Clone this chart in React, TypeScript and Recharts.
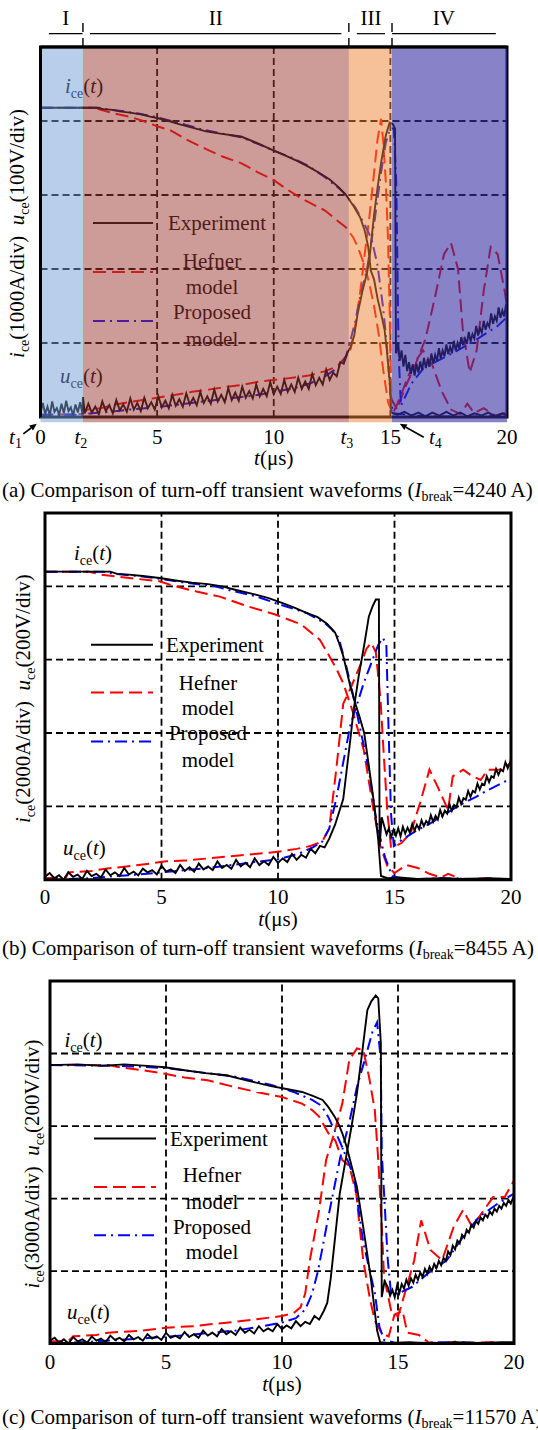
import React from 'react';
import {
  LineChart,
  Line,
  XAxis,
  YAxis,
  ReferenceLine,
  ReferenceArea,
  Customized,
} from 'recharts';

type Pt = [number, number];

const FONT = '"Liberation Serif", "Times New Roman", Times, serif';
const FS = 21;
const SUB_FS = 14;
const PAGE_W = 538;
const PAGE_H = 1430;

// time axis in µs, vertical axis in oscilloscope divisions
const T_MAX = 20;
const DIVS = 5;
const gridTimes = [5, 10, 15];
const gridDivs = [1, 2, 3, 4];
const plainTicks = [0, 5, 10, 15, 20];

// turn-off stages of panel (a)
const stageBounds = [0, 1.82, 13.22, 15.07, 20];
const stageNames = ['I', 'II', 'III', 'IV'];
const stageBracketFrom = [0.36, 2.12, 13.56, 15.07];
const stageBracketTo = [1.8, 12.9, 14.77, 19.52];
const stageFill = ['#719dd7', '#9b3731', '#ed8331', '#3930a3'];
const stageOpacity = [0.5, 0.5, 0.5, 0.6];
const aTickValues = [0, 1.82, 5, 10, 13.22, 15, 20];
const aTickLabels = ['0', 't2', '5', '10', 't3', '15', '20'];

const panelTags = ['(a)', '(b)', '(c)'];
const breakCurrents = ['4240', '8455', '11570'];
const currentScales = ['1000A/div', '2000A/div', '3000A/div'];
const voltageScales = ['100V/div', '200V/div', '200V/div'];

// ---------------- (a) I_break = 4240 A ----------------
const aExpIce: Pt[] = [[0,4.18],[1.2,4.18],[2.4,4.18],[2.7,4.16],[3.1,4.15],[3.4,4.13],[3.9,4.11],[4.3,4.09],[4.7,4.06],[5.0,4.04],[5.5,4.0],[5.9,3.96],[6.5,3.91],[7.1,3.86],[7.7,3.83],[8.6,3.79],[9.3,3.7],[10.0,3.6],[10.6,3.52],[11.0,3.46],[11.5,3.38],[12.0,3.29],[12.4,3.21],[12.8,3.1],[13.1,3.0],[13.4,2.86],[13.7,2.7],[13.9,2.52],[14.05,2.3],[14.16,1.98],[14.3,1.86],[14.45,1.6],[14.6,1.4],[14.75,1.18],[14.85,0.9],[14.97,0.48],[15.04,0.06],[15.3,0.03],[15.6,0.07],[15.9,0.02],[16.2,0.06],[16.5,0.01],[16.8,0.06],[17.1,0.02],[17.4,0.07],[17.7,0.02],[18.0,0.06],[18.3,0.01],[18.6,0.05],[18.9,0.02],[19.2,0.06],[19.5,0.01],[19.8,0.05],[20,0.02]];
const aExpUce: Pt[] = [[0,0.05],[0.1,0.19],[0.2,0.04],[0.3,0.14],[0.4,0.02],[0.5,0.21],[0.6,0.07],[0.7,0.12],[0.8,0.03],[0.9,0.18],[1.0,0.05],[1.1,0.22],[1.2,0.08],[1.3,0.13],[1.4,0.02],[1.5,0.17],[1.6,0.06],[1.7,0.2],[1.8,0.04],[1.82,0.27],[1.9,0.05],[2.05,0.18],[2.2,0.06],[2.35,0.14],[2.5,0.04],[2.65,0.21],[2.8,0.08],[2.95,0.16],[3.1,0.05],[3.25,0.23],[3.4,0.09],[3.55,0.17],[3.7,0.07],[3.85,0.25],[4.0,0.1],[4.15,0.19],[4.3,0.08],[4.45,0.26],[4.6,0.12],[4.75,0.2],[4.9,0.1],[5.05,0.28],[5.2,0.13],[5.35,0.22],[5.5,0.12],[5.65,0.3],[5.8,0.15],[5.95,0.24],[6.1,0.14],[6.25,0.32],[6.4,0.17],[6.55,0.26],[6.7,0.16],[6.85,0.34],[7.0,0.19],[7.15,0.28],[7.3,0.18],[7.45,0.37],[7.6,0.21],[7.75,0.3],[7.9,0.2],[8.05,0.39],[8.2,0.23],[8.35,0.33],[8.5,0.22],[8.65,0.41],[8.8,0.26],[8.95,0.35],[9.1,0.25],[9.25,0.44],[9.4,0.28],[9.55,0.38],[9.7,0.28],[9.85,0.47],[10.0,0.31],[10.15,0.41],[10.3,0.31],[10.45,0.5],[10.6,0.34],[10.75,0.44],[10.9,0.34],[11.05,0.53],[11.2,0.38],[11.35,0.48],[11.5,0.38],[11.65,0.58],[11.8,0.43],[11.95,0.53],[12.1,0.44],[12.25,0.64],[12.4,0.5],[12.55,0.6],[12.7,0.55],[12.85,0.74],[13.0,0.72],[13.15,0.86],[13.3,0.95],[13.45,1.1],[13.6,1.4],[13.8,1.7],[14.0,1.95],[14.1,2.13],[14.3,2.73],[14.45,3.1],[14.6,3.43],[14.8,3.8],[14.97,3.98],[15.1,3.96],[15.2,3.9],[15.24,0.86],[15.32,1.0],[15.4,0.76],[15.48,0.9],[15.56,0.68],[15.64,0.84],[15.72,0.62],[15.8,0.74],[15.88,0.58],[15.96,0.71],[16.04,0.56],[16.12,0.72],[16.2,0.6],[16.28,0.75],[16.36,0.63],[16.44,0.8],[16.52,0.66],[16.6,0.78],[16.68,0.68],[16.76,0.86],[16.84,0.72],[16.92,0.84],[17.0,0.76],[17.08,0.93],[17.16,0.79],[17.24,0.9],[17.32,0.82],[17.4,0.98],[17.48,0.85],[17.56,0.95],[17.64,0.86],[17.72,1.03],[17.8,0.9],[17.88,1.0],[17.96,0.92],[18.04,1.08],[18.12,0.97],[18.2,1.06],[18.28,0.99],[18.36,1.15],[18.44,1.02],[18.52,1.12],[18.6,1.06],[18.68,1.23],[18.76,1.1],[18.84,1.2],[18.92,1.14],[19.0,1.3],[19.08,1.18],[19.16,1.27],[19.24,1.22],[19.32,1.4],[19.4,1.26],[19.48,1.36],[19.56,1.3],[19.64,1.48],[19.72,1.34],[19.8,1.44],[19.88,1.36],[19.96,1.52],[20,1.42]];
const aHefIce: Pt[] = [[0,4.18],[2.3,4.18],[2.7,4.14],[3.2,4.1],[3.8,4.06],[4.4,4.0],[5.0,3.93],[5.6,3.87],[6.2,3.76],[7.1,3.62],[7.8,3.52],[8.6,3.43],[9.3,3.31],[10.0,3.2],[10.6,3.07],[11.1,2.97],[11.7,2.87],[12.2,2.79],[12.7,2.66],[13.1,2.56],[13.4,2.43],[13.6,2.3],[13.9,2.04],[14.1,1.8],[14.3,1.5],[14.5,1.12],[14.7,0.62],[14.9,0.2],[15.1,0.04],[15.4,0.25],[15.7,0.5],[16.0,0.72],[16.4,0.9],[16.8,0.7],[17.2,0.35],[17.6,0.1],[18.0,0.04],[18.3,0.18],[18.6,0.05],[19.0,0.12],[19.5,0.02],[20,0.06]];
const aHefUce: Pt[] = [[0,0.03],[1.8,0.04],[2.0,0.1],[2.6,0.12],[3.2,0.17],[3.8,0.2],[4.4,0.23],[5.0,0.26],[5.8,0.3],[6.5,0.34],[7.2,0.37],[8.0,0.41],[8.6,0.43],[9.4,0.48],[10.0,0.5],[10.8,0.53],[11.5,0.56],[12.2,0.62],[12.7,0.68],[13.0,0.78],[13.3,0.92],[13.45,1.15],[13.6,1.45],[13.75,1.8],[13.9,2.2],[14.1,2.7],[14.3,3.3],[14.45,3.75],[14.6,4.03],[14.7,3.7],[14.8,3.2],[14.9,2.4],[14.97,1.4],[15.04,0.24],[15.3,0.1],[15.6,0.38],[16.0,0.65],[16.5,1.05],[16.9,1.6],[17.3,2.2],[17.6,2.35],[17.9,2.0],[18.1,1.2],[18.4,0.6],[18.7,0.9],[19.0,1.7],[19.3,2.3],[19.6,2.2],[19.9,1.7],[20,1.5]];
const aProIce: Pt[] = [[0,4.18],[2.5,4.18],[3.0,4.15],[3.6,4.13],[4.2,4.1],[5.0,4.05],[5.6,4.0],[6.2,3.95],[7.0,3.88],[7.8,3.83],[8.6,3.78],[9.4,3.68],[10.0,3.6],[10.8,3.5],[11.5,3.39],[12.2,3.24],[12.8,3.09],[13.1,3.0],[13.5,2.83],[13.9,2.6],[14.2,2.4],[14.45,2.05],[14.7,1.45],[14.85,0.95],[14.97,0.45],[15.1,0.05],[16,0.02],[18,0.0],[20,0.02]];
const aProUce: Pt[] = [[0,0.03],[1.8,0.03],[2.2,0.05],[3.0,0.07],[3.8,0.1],[4.6,0.12],[5.4,0.15],[6.2,0.18],[7.0,0.21],[7.8,0.24],[8.6,0.27],[9.4,0.3],[10.2,0.35],[11.0,0.4],[11.6,0.46],[12.2,0.55],[12.8,0.68],[13.1,0.82],[13.3,1.05],[13.5,1.3],[13.7,1.62],[14.0,2.0],[14.3,2.6],[14.6,3.3],[14.8,3.7],[15.0,3.9],[15.15,3.9],[15.25,3.2],[15.3,2.1],[15.35,0.9],[15.45,0.15],[15.6,0.25],[15.9,0.45],[16.4,0.65],[16.9,0.74],[17.4,0.82],[18.0,0.92],[18.7,1.05],[19.2,1.15],[19.6,1.23],[20,1.35]];

// ---------------- (b) I_break = 8455 A ----------------
const bExpIce: Pt[] = [[0,4.2],[2.8,4.2],[3.1,4.17],[3.6,4.16],[4.2,4.14],[5.0,4.11],[5.6,4.08],[6.3,4.05],[7.0,4.03],[7.6,4.0],[8.2,3.95],[9.0,3.89],[9.6,3.84],[10.2,3.77],[10.7,3.71],[11.2,3.64],[11.7,3.58],[12.1,3.49],[12.45,3.37],[12.65,3.2],[12.8,3.05],[12.95,2.85],[13.1,2.64],[13.3,2.42],[13.5,2.22],[13.7,2.0],[13.9,1.55],[14.1,1.09],[14.3,0.55],[14.42,0.05],[14.7,0.02],[15.2,0.03],[16,0.01],[17,0.02],[18,0.01],[19,0.02],[20,0.01]];
const bExpUce: Pt[] = [[0,0.04],[0.2,0.09],[0.4,0.02],[0.6,0.06],[0.8,0.0],[1.0,0.1],[1.2,0.04],[1.4,0.07],[1.6,0.01],[1.8,0.12],[2.0,0.05],[2.2,0.08],[2.4,0.03],[2.6,0.14],[2.8,0.06],[3.0,0.1],[3.2,0.05],[3.4,0.16],[3.6,0.07],[3.8,0.11],[4.0,0.06],[4.2,0.15],[4.4,0.1],[4.6,0.13],[4.8,0.07],[5.0,0.19],[5.2,0.11],[5.4,0.14],[5.6,0.09],[5.8,0.2],[6.0,0.12],[6.2,0.17],[6.4,0.11],[6.6,0.22],[6.8,0.14],[7.0,0.18],[7.2,0.13],[7.4,0.25],[7.6,0.16],[7.8,0.2],[8.0,0.15],[8.2,0.27],[8.4,0.18],[8.6,0.23],[8.8,0.17],[9.0,0.29],[9.2,0.2],[9.4,0.25],[9.6,0.2],[9.8,0.31],[10.0,0.23],[10.2,0.29],[10.4,0.24],[10.6,0.35],[10.8,0.27],[11.0,0.34],[11.2,0.3],[11.4,0.42],[11.6,0.36],[11.8,0.46],[12.0,0.44],[12.2,0.56],[12.45,0.75],[12.65,0.95],[12.8,1.1],[12.95,1.5],[13.1,1.9],[13.24,2.3],[13.46,2.77],[13.7,3.2],[13.9,3.59],[14.05,3.72],[14.2,3.82],[14.33,3.82],[14.36,0.45],[14.45,0.85],[14.56,0.73],[14.66,0.62],[14.76,0.7],[14.86,0.58],[14.96,0.68],[15.06,0.6],[15.16,0.7],[15.26,0.59],[15.36,0.72],[15.46,0.63],[15.56,0.71],[15.66,0.64],[15.76,0.76],[15.86,0.67],[15.96,0.75],[16.06,0.69],[16.16,0.81],[16.26,0.73],[16.36,0.8],[16.46,0.76],[16.56,0.88],[16.66,0.79],[16.76,0.87],[16.86,0.82],[16.96,0.95],[17.06,0.86],[17.16,0.94],[17.26,0.9],[17.36,1.03],[17.46,0.94],[17.56,1.02],[17.66,0.99],[17.76,1.12],[17.86,1.03],[17.96,1.11],[18.06,1.09],[18.16,1.21],[18.26,1.13],[18.36,1.21],[18.46,1.19],[18.56,1.31],[18.66,1.23],[18.76,1.31],[18.86,1.29],[18.96,1.41],[19.06,1.33],[19.16,1.41],[19.26,1.39],[19.36,1.51],[19.46,1.43],[19.56,1.5],[19.66,1.48],[19.76,1.6],[19.86,1.52],[19.96,1.6],[20,1.56]];
const bHefIce: Pt[] = [[0,4.2],[1.9,4.2],[2.4,4.16],[3.2,4.13],[4.0,4.1],[4.9,4.07],[5.6,4.0],[6.5,3.93],[7.5,3.86],[8.67,3.73],[9.85,3.62],[11.0,3.48],[11.8,3.27],[12.2,3.05],[12.5,2.88],[12.8,2.68],[13.2,2.3],[13.68,1.77],[14.1,0.95],[14.4,0.45],[14.7,0.18],[15.0,0.09],[15.5,0.2],[16.0,0.16],[16.5,0.08],[17.0,0.03],[17.3,0.08],[17.7,0.03],[18.0,0.0],[19.0,0.02],[20,0.0]];
const bHefUce: Pt[] = [[0,0.02],[0.9,0.03],[1.0,0.1],[2.0,0.12],[2.6,0.15],[3.5,0.18],[4.5,0.22],[5.2,0.25],[6.0,0.26],[7.0,0.29],[8.0,0.32],[9.0,0.35],[10.0,0.38],[10.8,0.42],[11.4,0.46],[11.9,0.52],[12.2,0.7],[12.5,1.5],[12.8,2.4],[13.1,2.6],[13.5,2.9],[13.8,3.15],[14.0,3.23],[14.2,3.1],[14.4,2.45],[14.56,1.6],[14.7,0.9],[14.85,0.45],[15.0,0.45],[15.3,0.5],[15.7,0.64],[16.1,1.05],[16.5,1.5],[16.85,1.27],[17.3,0.95],[17.5,1.41],[17.95,1.5],[18.3,1.42],[18.7,1.36],[19.0,1.5],[19.5,1.5],[20,1.59]];
const bProIce: Pt[] = [[0,4.2],[2.5,4.2],[3.0,4.17],[4.0,4.14],[5.0,4.1],[6.0,4.05],[7.3,4.0],[8.0,3.94],[9.0,3.87],[10.0,3.76],[11.2,3.64],[12.0,3.5],[12.3,3.42],[12.6,3.3],[12.9,2.95],[13.2,2.55],[13.5,2.1],[13.9,1.5],[14.2,0.85],[14.4,0.55],[14.6,0.3],[14.9,0.05],[15.5,0.0],[17,0.02],[20,0.0]];
const bProUce: Pt[] = [[0,0.0],[2,0.02],[3,0.05],[4,0.07],[5,0.1],[6,0.13],[7,0.16],[8,0.2],[9,0.24],[10,0.28],[10.5,0.32],[11,0.37],[11.5,0.44],[11.9,0.52],[12.2,0.7],[12.5,1.1],[12.8,1.6],[13.1,2.1],[13.4,2.4],[13.7,2.7],[14.0,2.95],[14.3,3.2],[14.5,3.3],[14.65,3.2],[14.75,2.0],[14.85,0.9],[14.97,0.46],[15.2,0.52],[15.6,0.6],[16.0,0.68],[16.5,0.76],[17.0,0.86],[17.5,0.96],[18.0,1.05],[18.5,1.13],[19.0,1.22],[19.5,1.3],[20,1.38]];

// ---------------- (c) I_break = 11570 A ----------------
const cExpIce: Pt[] = [[0,3.84],[1.2,3.85],[2.2,3.83],[3.2,3.85],[4.2,3.83],[4.95,3.81],[5.8,3.77],[6.7,3.73],[7.6,3.7],[8.6,3.62],[9.53,3.55],[10.2,3.51],[10.86,3.47],[11.3,3.42],[11.75,3.36],[12.0,3.26],[12.27,3.13],[12.45,3.02],[12.6,2.9],[12.79,2.71],[13.0,2.45],[13.23,2.16],[13.5,1.61],[13.82,0.92],[14.1,0.18],[14.23,0.02],[14.6,0.01],[15.5,0.02],[16.5,0.0],[17.5,0.02],[18.5,0.01],[19.5,0.02],[20,0.02]];
const cExpUce: Pt[] = [[0,0.04],[0.2,0.08],[0.4,0.01],[0.6,0.06],[0.8,0.0],[1.0,0.09],[1.2,0.03],[1.4,0.06],[1.6,0.01],[1.8,0.1],[2.0,0.04],[2.2,0.07],[2.4,0.02],[2.6,0.11],[2.8,0.05],[3.0,0.08],[3.2,0.03],[3.4,0.12],[3.6,0.06],[3.8,0.09],[4.0,0.04],[4.2,0.13],[4.4,0.07],[4.6,0.1],[4.8,0.05],[5.0,0.15],[5.2,0.08],[5.4,0.11],[5.6,0.07],[5.8,0.16],[6.0,0.09],[6.2,0.13],[6.4,0.08],[6.6,0.18],[6.8,0.11],[7.0,0.15],[7.2,0.1],[7.4,0.2],[7.6,0.13],[7.8,0.17],[8.0,0.12],[8.2,0.22],[8.4,0.15],[8.6,0.19],[8.8,0.14],[9.0,0.24],[9.2,0.17],[9.4,0.21],[9.6,0.17],[9.8,0.27],[10.0,0.2],[10.2,0.25],[10.4,0.21],[10.6,0.31],[10.8,0.24],[11.0,0.3],[11.2,0.27],[11.4,0.38],[11.6,0.33],[11.8,0.45],[11.95,0.56],[12.1,0.9],[12.3,1.5],[12.49,2.07],[12.79,2.62],[13.0,3.0],[13.23,3.45],[13.45,4.0],[13.68,4.6],[13.85,4.72],[14.04,4.8],[14.15,4.76],[14.26,4.14],[14.3,0.64],[14.42,0.86],[14.56,0.78],[14.66,0.66],[14.76,0.74],[14.86,0.64],[14.96,0.8],[15.06,0.7],[15.16,0.82],[15.26,0.76],[15.36,0.88],[15.46,0.8],[15.56,0.9],[15.66,0.84],[15.76,0.95],[15.86,0.88],[15.96,0.98],[16.06,0.92],[16.16,1.03],[16.26,0.96],[16.36,1.06],[16.46,1.0],[16.56,1.1],[16.66,1.04],[16.76,1.14],[16.86,1.08],[16.96,1.18],[17.06,1.14],[17.16,1.27],[17.26,1.22],[17.36,1.35],[17.46,1.3],[17.56,1.42],[17.66,1.38],[17.76,1.5],[17.86,1.46],[17.96,1.57],[18.06,1.53],[18.16,1.64],[18.26,1.6],[18.36,1.69],[18.46,1.65],[18.56,1.74],[18.66,1.7],[18.76,1.78],[18.86,1.74],[18.96,1.82],[19.06,1.78],[19.16,1.86],[19.26,1.82],[19.36,1.9],[19.46,1.86],[19.56,1.94],[19.66,1.9],[19.76,1.98],[19.86,1.93],[19.96,2.01],[20,1.98]];
const cHefIce: Pt[] = [[0,3.84],[2.5,3.84],[3.0,3.81],[4.0,3.77],[4.95,3.72],[5.8,3.67],[6.8,3.63],[7.8,3.55],[8.9,3.47],[10.0,3.4],[10.86,3.31],[11.3,3.22],[11.6,3.13],[12.0,2.9],[12.3,2.8],[12.6,2.53],[12.9,2.45],[13.2,2.07],[13.5,1.15],[13.8,0.6],[14.0,0.32],[14.3,0.14],[14.6,0.1],[14.85,0.4],[15.2,0.45],[15.4,0.15],[15.9,0.12],[16.3,0.02],[17.0,0.0],[17.5,0.03],[18.0,0.01],[19.0,0.02],[20,0.0]];
const cHefUce: Pt[] = [[0,0.03],[0.8,0.04],[1.0,0.1],[2.0,0.12],[2.5,0.15],[4.0,0.18],[5.0,0.22],[6.2,0.24],[7.0,0.27],[8.0,0.3],[9.0,0.34],[10.0,0.38],[10.5,0.42],[10.8,0.5],[11.0,0.69],[11.2,1.15],[11.6,1.84],[11.9,2.53],[12.2,2.85],[12.6,3.31],[12.9,3.91],[13.23,4.07],[13.5,4.05],[13.75,3.68],[14.0,3.22],[14.15,2.53],[14.3,1.61],[14.4,0.92],[14.7,0.46],[15.0,0.37],[15.3,0.7],[15.7,1.15],[16.0,1.7],[16.4,1.29],[16.9,1.15],[17.4,1.61],[17.8,1.84],[18.2,1.61],[18.7,1.84],[19.1,2.02],[19.6,2.02],[20,2.25]];
const cProIce: Pt[] = [[0,3.84],[3.0,3.83],[5.0,3.8],[6.5,3.74],[8.0,3.68],[9.5,3.57],[10.5,3.47],[11.3,3.36],[11.7,3.28],[12.0,3.12],[12.5,2.78],[12.8,2.55],[13.1,2.3],[13.5,1.4],[14.0,0.7],[14.2,0.23],[14.4,0.05],[15,0.0],[17,0.02],[20,0.0]];
const cProUce: Pt[] = [[0,0.0],[2,0.03],[4,0.07],[6,0.12],[8,0.18],[9,0.23],[10,0.29],[10.6,0.35],[11.0,0.47],[11.3,0.69],[11.55,1.0],[11.75,1.33],[12.0,1.75],[12.2,2.07],[12.5,2.55],[12.9,3.05],[13.23,3.54],[13.6,3.95],[13.9,4.3],[14.1,4.43],[14.26,3.91],[14.3,2.62],[14.4,2.07],[14.56,1.15],[14.7,0.69],[15.0,0.69],[15.6,0.78],[16.3,0.97],[17.1,1.15],[17.8,1.47],[18.5,1.75],[19.3,1.93],[20,2.07]];

type SeriesSet = { exp: Pt[][]; hef: Pt[][]; pro: Pt[][] };
const SERIES: SeriesSet[] = [
  { exp: [aExpIce, aExpUce], hef: [aHefIce, aHefUce], pro: [aProIce, aProUce] },
  { exp: [bExpIce, bExpUce], hef: [bHefIce, bHefUce], pro: [bProIce, bProUce] },
  { exp: [cExpIce, cExpUce], hef: [cHefIce, cHefUce], pro: [cProIce, cProUce] },
];

const rows = (pts: Pt[]) => pts.map(([t, v]) => ({ t, v }));

// layout of each panel on the page
type Geom = {
  plotTop: number; plotBottom: number; x0: number; x20: number;
  tickGap: number; titleGap: number; captionY: number; yLabelX: number;
};
const GEOMS: Geom[] = [
  { plotTop: 46.5, plotBottom: 416.5, x0: 40.5, x20: 507, tickGap: 26.5, titleGap: 48.5, captionY: 497, yLabelX: 24 },
  { plotTop: 513.3, plotBottom: 880, x0: 45, x20: 511, tickGap: 24, titleGap: 46, captionY: 955, yLabelX: 30 },
  { plotTop: 980.7, plotBottom: 1343.3, x0: 50, x20: 514, tickGap: 25.5, titleGap: 48, captionY: 1424, yLabelX: 39 },
];

type LegendLayout = {
  sx1: number; sx2: number; tx: number; cx: number;
  exp: number; hef: number; red: number; m1: number; pro: number; blue: number; m2: number;
  iX: number; iY: number; uX: number; uY: number;
};
const LEGENDS: LegendLayout[] = [
  { sx1: 93, sx2: 153, tx: 168, cx: 212, exp: 176, hef: 213.5, red: 225, m1: 240, pro: 265, blue: 274, m2: 292, iX: 65, iY: 38.5, uX: 60, uY: 328.5 },
  { sx1: 91, sx2: 153, tx: 166, cx: 208, exp: 131.7, hef: 170, red: 179.4, m1: 195, pro: 220, blue: 228.4, m2: 246.7, iX: 74, iY: 40, uX: 63, uY: 335 },
  { sx1: 94, sx2: 156, tx: 170, cx: 212, exp: 157.6, hef: 194.3, red: 206, m1: 221, pro: 246, blue: 254.3, m2: 271, iX: 64.5, iY: 59.3, uX: 67, uY: 331 },
];

const EXP_STYLE = { stroke: '#000000', strokeWidth: 1.9 };
const HEF_STYLE = { stroke: '#ff0000', strokeWidth: 2, strokeDasharray: '13 6' };
const PRO_STYLE = { stroke: '#0000ff', strokeWidth: 2, strokeDasharray: '12 5 2 5' };

const TOP_PAD = 48;
const BOTTOM_PAD = 60;
const AXIS_H = 30;

function Arrow({ x1, y1, x2, y2 }: { x1: number; y1: number; x2: number; y2: number }) {
  const a = Math.atan2(y2 - y1, x2 - x1);
  const L = 7;
  const w = 3.2;
  const bx = x2 - L * Math.cos(a);
  const by = y2 - L * Math.sin(a);
  const px = -Math.sin(a) * w;
  const py = Math.cos(a) * w;
  return (
    <g>
      <line x1={x1} y1={y1} x2={bx} y2={by} stroke="#000" strokeWidth={1.6} />
      <polygon points={`${x2},${y2} ${bx + px},${by + py} ${bx - px},${by - py}`} fill="#000" />
    </g>
  );
}

function SubT({ n }: { n: string }) {
  return (
    <>
      <tspan fontStyle="italic">t</tspan>
      <tspan fontSize={SUB_FS} dy={4}>{n}</tspan>
    </>
  );
}

function makeTick(idx: number) {
  const g = GEOMS[idx];
  const yb = TOP_PAD + (g.plotBottom - g.plotTop) + g.tickGap;
  const pb = TOP_PAD + (g.plotBottom - g.plotTop);
  return (props: any) => {
    const { x, payload } = props;
    const v = payload.value as number;
    if (idx !== 0) {
      return (
        <text x={x} y={yb} textAnchor="middle" fontFamily={FONT} fontSize={FS} fill="#000">
          {String(v)}
        </text>
      );
    }
    const label = aTickLabels[aTickValues.indexOf(v)] ?? String(v);
    if (label.startsWith('t')) {
      return (
        <text x={x - 2} y={yb} textAnchor="middle" fontFamily={FONT} fontSize={FS} fill="#000">
          <SubT n={label.slice(1)} />
        </text>
      );
    }
    return (
      <g>
        <text x={x} y={yb} textAnchor="middle" fontFamily={FONT} fontSize={FS} fill="#000">
          {label}
        </text>
        {v === 0 && (
          <>
            <text x={x - 25} y={yb} textAnchor="middle" fontFamily={FONT} fontSize={FS} fill="#000">
              <SubT n="1" />
            </text>
            <Arrow x1={x - 17.2} y1={pb + 16.8} x2={x - 3.8} y2={pb + 6.8} />
          </>
        )}
        {v === 15 && (
          <>
            <text x={x + 45} y={yb} textAnchor="middle" fontFamily={FONT} fontSize={FS} fill="#000">
              <SubT n="4" />
            </text>
            <Arrow x1={x + 33.4} y1={pb + 20.2} x2={x + 9.4} y2={pb + 6.8} />
          </>
        )}
      </g>
    );
  };
}

function VarLabel({ x, y, v }: { x: number; y: number; v: string }) {
  return (
    <text x={x} y={y} fontFamily={FONT} fontSize={FS} fill="#000">
      <tspan fontStyle="italic">{v}</tspan>
      <tspan fontSize={SUB_FS} dy={5}>ce</tspan>
      <tspan dy={-5}>(</tspan>
      <tspan fontStyle="italic">t</tspan>
      <tspan>)</tspan>
    </text>
  );
}

function LegendLayer({ idx }: { idx: number }) {
  const L = LEGENDS[idx];
  const y = (o: number) => TOP_PAD + o;
  return (
    <g>
      <VarLabel x={L.iX} y={y(L.iY) + 7} v="i" />
      <VarLabel x={L.uX} y={y(L.uY) + 7} v="u" />
      <line x1={L.sx1} x2={L.sx2} y1={y(L.exp)} y2={y(L.exp)} {...EXP_STYLE} strokeWidth={2} />
      <line x1={L.sx1} x2={L.sx2} y1={y(L.red)} y2={y(L.red)} {...HEF_STYLE} />
      <line x1={L.sx1} x2={L.sx2} y1={y(L.blue)} y2={y(L.blue)} {...PRO_STYLE} />
      <g fontFamily={FONT} fontSize={FS} fill="#000">
        <text x={L.tx} y={y(L.exp) + 7}>Experiment</text>
        <text x={L.cx} y={y(L.hef) + 7} textAnchor="middle">Hefner</text>
        <text x={L.cx} y={y(L.m1) + 7} textAnchor="middle">model</text>
        <text x={L.cx} y={y(L.pro) + 7} textAnchor="middle">Proposed</text>
        <text x={L.cx} y={y(L.m2) + 7} textAnchor="middle">model</text>
      </g>
    </g>
  );
}

function Panel({ idx, extras }: { idx: number; extras?: React.ReactNode }) {
  const g = GEOMS[idx];
  const s = SERIES[idx];
  const plotH = g.plotBottom - g.plotTop;
  const h = plotH + TOP_PAD + BOTTOM_PAD;
  const ticks = idx === 0 ? aTickValues : plainTicks;
  const lines: React.ReactNode[] = [];
  s.hef.forEach((d, k) => lines.push(
    <Line key={`h${k}`} data={rows(d)} dataKey="v" type="linear" dot={false} activeDot={false} isAnimationActive={false} {...HEF_STYLE} />,
  ));
  s.pro.forEach((d, k) => lines.push(
    <Line key={`p${k}`} data={rows(d)} dataKey="v" type="linear" dot={false} activeDot={false} isAnimationActive={false} {...PRO_STYLE} />,
  ));
  s.exp.forEach((d, k) => lines.push(
    <Line key={`e${k}`} data={rows(d)} dataKey="v" type="linear" dot={false} activeDot={false} isAnimationActive={false} {...EXP_STYLE} />,
  ));
  return (
    <div style={{ position: 'absolute', left: 0, top: g.plotTop - TOP_PAD, width: PAGE_W, height: h }}>
      <LineChart
        width={PAGE_W}
        height={h}
        margin={{ top: TOP_PAD, right: PAGE_W - g.x20, bottom: BOTTOM_PAD - AXIS_H, left: g.x0 }}
      >
        <XAxis
          dataKey="t"
          type="number"
          domain={[0, T_MAX]}
          allowDataOverflow
          ticks={ticks}
          interval={0}
          tick={makeTick(idx)}
          tickLine={false}
          axisLine={false}
          height={AXIS_H}
        />
        <YAxis hide type="number" domain={[0, DIVS]} allowDataOverflow />
        {gridDivs.map((d) => (
          <ReferenceLine key={`gy${d}`} y={d} stroke="#000" strokeWidth={1.8} strokeDasharray="7 4" zIndex={300} />
        ))}
        {gridTimes.map((t) => (
          <ReferenceLine key={`gx${t}`} x={t} stroke="#000" strokeWidth={1.8} strokeDasharray="7 4" zIndex={300} />
        ))}
        {lines}
        <ReferenceArea x1={0} x2={T_MAX} y1={0} y2={DIVS} fill="none" stroke="#000" strokeWidth={3} zIndex={450} />
        <Customized component={() => <LegendLayer idx={idx} />} />
        {extras}
      </LineChart>
    </div>
  );
}

// stage shading, brackets and boundaries of panel (a)
const stageExtras = [
  ...stageNames.map((n, i) => (
    <ReferenceLine
      key={`br${n}`}
      segment={[{ x: stageBracketFrom[i], y: 5.18 }, { x: stageBracketTo[i], y: 5.18 }]}
      stroke="#000"
      strokeWidth={1.2}
      ifOverflow="visible"
      zIndex={1600}
    />
  )),
  ...stageBounds.slice(1, 4).map((b) => (
    <ReferenceLine
      key={`bd${b}`}
      segment={[{ x: b, y: 5.0 }, { x: b, y: 5.38 }]}
      stroke="#000"
      strokeWidth={1.4}
      strokeDasharray="9 6"
      ifOverflow="visible"
      zIndex={1600}
    />
  )),
  ...stageNames.map((n, i) => (
    <ReferenceArea
      key={`st${n}`}
      x1={stageBounds[i]}
      x2={stageBounds[i + 1]}
      y1={-0.07}
      y2={4.98}
      fill={stageFill[i]}
      fillOpacity={stageOpacity[i]}
      stroke="none"
      ifOverflow="visible"
      zIndex={1500}
    />
  )),
  <ReferenceLine key="edgeL" x={0} stroke="#000" strokeWidth={3} zIndex={1600} />,
  <ReferenceLine key="edgeT" y={DIVS} stroke="#000" strokeWidth={3} zIndex={1600} />,
];

function PageText() {
  return (
    <svg
      width={PAGE_W}
      height={PAGE_H}
      style={{ position: 'absolute', left: 0, top: 0, pointerEvents: 'none' }}
      fontFamily={FONT}
      fontSize={FS}
    >
      {GEOMS.map((g, i) => {
        const xOf = (t: number) => g.x0 + (t / T_MAX) * (g.x20 - g.x0);
        const cy = (g.plotTop + g.plotBottom) / 2 + 2;
        return (
          <g key={`pt${i}`}>
            <text x={xOf(10)} y={g.plotBottom + g.titleGap} textAnchor="middle">
              <tspan fontStyle="italic">t</tspan>
              <tspan>(μs)</tspan>
            </text>
            <text x={2} y={g.captionY}>
              <tspan>{`${panelTags[i]} Comparison of turn-off transient waveforms (`}</tspan>
              <tspan fontStyle="italic">I</tspan>
              <tspan fontSize={SUB_FS} dy={4}>break</tspan>
              <tspan dy={-4}>{`=${breakCurrents[i]} A)`}</tspan>
            </text>
            <text
              transform={`translate(${g.yLabelX},${cy}) rotate(-90)`}
              textAnchor="middle"
            >
              <tspan fontStyle="italic">i</tspan>
              <tspan fontSize={SUB_FS} dy={5}>ce</tspan>
              <tspan dy={-5}>{`(${currentScales[i]})\u00a0\u00a0`}</tspan>
              <tspan fontStyle="italic">u</tspan>
              <tspan fontSize={SUB_FS} dy={5}>ce</tspan>
              <tspan dy={-5}>{`(${voltageScales[i]})`}</tspan>
            </text>
          </g>
        );
      })}
      {stageNames.map((n, i) => {
        const g = GEOMS[0];
        const xOf = (t: number) => g.x0 + (t / T_MAX) * (g.x20 - g.x0);
        return (
          <text key={`sn${n}`} x={xOf((stageBracketFrom[i] + stageBracketTo[i]) / 2)} y={25} textAnchor="middle">
            {n}
          </text>
        );
      })}
    </svg>
  );
}

export default function App() {
  return (
    <div
      style={{
        position: 'absolute',
        left: 0,
        top: 0,
        width: PAGE_W,
        height: PAGE_H,
        background: '#ffffff',
        overflow: 'hidden',
      }}
    >
      <Panel idx={0} extras={stageExtras} />
      <Panel idx={1} />
      <Panel idx={2} />
      <PageText />
    </div>
  );
}
